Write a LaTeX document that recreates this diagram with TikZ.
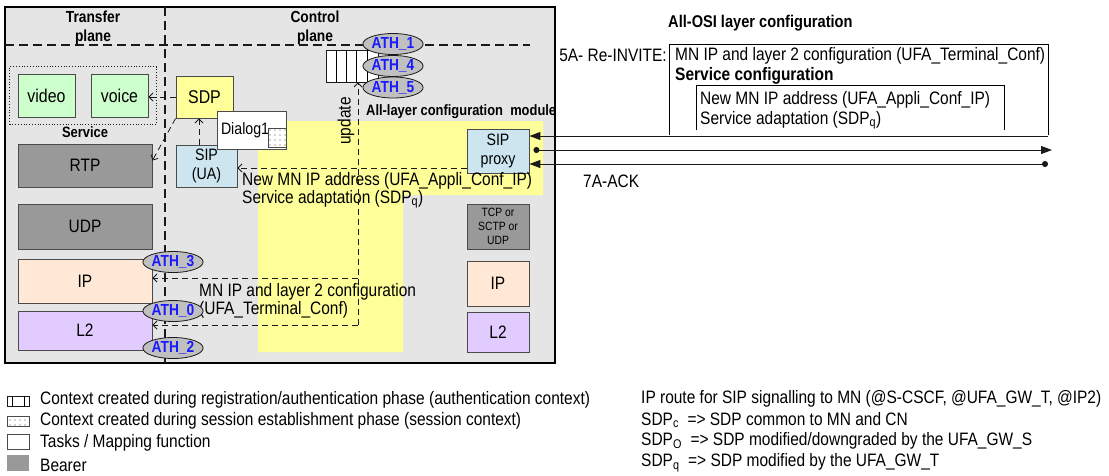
\documentclass[tikz,border=0pt]{standalone}
\usepackage{fontspec}
\setmainfont{Liberation Sans}[FakeStretch=0.86]
\usepackage{tikz}
\usetikzlibrary{arrows.meta,positioning,fit,shapes.geometric,patterns.meta}
\definecolor{ink}     {HTML}{1A1A1A}
\definecolor{edge}    {HTML}{4A4A4A}
\definecolor{panel}   {HTML}{E5E5E5}
\definecolor{bearer}  {HTML}{999999}
\definecolor{media}   {HTML}{CCFFCC}
\definecolor{sdpbg}   {HTML}{FFFF99}
\definecolor{sipbg}   {HTML}{CCE5EE}
\definecolor{ipbg}    {HTML}{FFE9D6}
\definecolor{ltwobg}  {HTML}{E2CCFF}
\definecolor{cfgzone} {HTML}{FFFF99}
\definecolor{athbg}   {HTML}{C0C0C0}
\definecolor{athtxt}  {HTML}{1A1AFF}
\tikzset{
  box/.style      ={draw=edge, line width=0.9pt, inner sep=0pt, align=center,
                    font=\fontsize{18}{19}\selectfont},
  mediabox/.style ={box, fill=media, minimum width=57, minimum height=43,
                    font=\fontsize{18.5}{20}\selectfont},
  bearerbox/.style={box, fill=bearer},
  ipbox/.style    ={box, fill=ipbg},
  ltwobox/.style  ={box, fill=ltwobg},
  sdpbox/.style   ={box, fill=sdpbg, font=\fontsize{18.5}{20}\selectfont},
  sipbox/.style   ={box, fill=sipbg, font=\fontsize{16.5}{19}\selectfont},
  taskbox/.style  ={box, fill=white, font=\fontsize{16.5}{19}\selectfont},
  sessctx/.style  ={draw=edge, line width=0.6pt, inner sep=0pt, preaction={fill=white},
                    pattern={Dots[distance=5pt,radius=0.55pt]}, pattern color=edge},
  authctx/.style  ={draw=ink, fill=white, line width=0.8pt, inner sep=0pt},
  ath/.style      ={ellipse, draw=ink, fill=athbg, line width=0.8pt, inner sep=0pt,
                    minimum width=49, minimum height=21, text=athtxt,
                    font=\fontsize{16}{16}\selectfont\bfseries},
  plane/.style    ={dash pattern=on 9pt off 5pt, line width=1.3pt, color=ink},
  dasharr/.style  ={-{Straight Barb[length=4pt,width=8pt]}, dash pattern=on 6pt off 4pt,
                    line width=0.8pt, color=ink},
  sigarr/.style   ={line width=1pt, color=ink},
  sigtip/.tip     ={Triangle[length=11pt,width=8pt]},
  note/.style     ={font=\fontsize{18}{18}\selectfont, align=left, inner sep=0pt},
  head/.style     ={font=\fontsize{16}{19}\selectfont\bfseries, align=center, inner sep=0pt},
}
\begin{document}
\begin{tikzpicture}[x=1pt,y=-1pt]
  \useasboundingbox[fill=white] (0,0) rectangle (1109,475);

  % terminal frame and planes
  \draw[fill=panel, line width=2.4pt] (5,7) rectangle (555,363);
  \fill[cfgzone] (258,121) -- (543,121) -- (543,195) -- (403,195)
    -- (403,352) -- (258,352) -- cycle;
  \draw[plane] (5,45) -- (530,45);
  \draw[plane] (165,7) -- (165,363);
  \node[head] (transfer) at (93,28) {Transfer\\plane};
  \node[head] (control) at (315,28) {Control\\plane};

  % transfer plane
  \node[mediabox] (video) at (46.5,95.5) {video};
  \node[mediabox] (voice) at (119.5,95.5) {voice};
  \node[draw=ink, dotted, line width=0.8pt, inner xsep=8pt, inner ysep=7pt,
        fit=(video)(voice)] (service) {};
  \node[head, font=\fontsize{15}{15}\selectfont\bfseries] (servlbl) at (85,132) {Service};
  \node[bearerbox, minimum width=134, minimum height=43] (rtp) at (85,165.5) {RTP};
  \node[bearerbox, minimum width=134, minimum height=45] (udp) at (85,226.5) {UDP};
  \node[ipbox, minimum width=134, minimum height=44] (ipL) at (85,281) {IP};
  \node[ltwobox, minimum width=134, minimum height=39] (ltwoL) at (85,330.5) {L2};

  % control plane
  \node[sdpbox, minimum width=57, minimum height=42] (sdp) at (204.5,97) {SDP};
  \node[sipbox, minimum width=61, minimum height=42] (sipua) at (206.5,166) {SIP\\(UA)};
  \node[taskbox, align=left, text width=61pt, inner xsep=4pt, minimum height=38,
        yshift=-2pt] (dialog) at (251.5,128) {Dialog1};
  \node[sessctx, minimum width=18, minimum height=19] (sessmark) at (277,137.5) {};
  \node[authctx, minimum width=52, minimum height=32] (queue) at (352,66) {};
  \foreach \dx in {10.4,20.8,31.2,41.6}
    \draw[line width=0.8pt] ([xshift=\dx pt]queue.north west) -- ([xshift=\dx pt]queue.south west);
  \node[note, font=\fontsize{15}{15}\selectfont\bfseries, anchor=west] (cfgmod) at (366,112)
    {All-layer configuration\ \ module};
  \node[sipbox, minimum width=62, minimum height=44] (sipproxy) at (498,151) {SIP\\proxy};
  \node[bearerbox, minimum width=62, minimum height=45, font=\fontsize{12}{14}\selectfont]
    (transport) at (498,226.5) {TCP or\\SCTP or\\UDP};
  \node[ipbox, minimum width=62, minimum height=45] (ipR) at (498,283.5) {IP};
  \node[ltwobox, minimum width=62, minimum height=40] (ltwoR) at (498,332) {L2};

  % local configuration flows
  \draw[dasharr] (sdp.west) -- (sdp.west -| voice.east);
  \draw[dasharr] (sdp.south west) -- ([yshift=5pt]rtp.east);
  \draw[dasharr] ([xshift=-7.5pt]sipua.north) -- ([xshift=-7.5pt]sipua.north |- sdp.south);
  \coordinate (fromproxy) at ([yshift=-17pt]sipproxy.west);
  \draw[dasharr] (fromproxy) -- (fromproxy -| sipua.east);
  \node[note, anchor=north west] (applilbl) at (242,172)
    {New MN IP address (UFA\_Appli\_Conf\_IP)\\Service adaptation (SDP\textsubscript{q})};

  \coordinate (bend) at (358,325);
  \coordinate (ipin) at ([yshift=3pt]ipL.east);
  \draw[dasharr] (bend) -- (bend |- queue.south);
  \draw[dasharr] (bend |- ipin) -- (ipin);
  \draw[dasharr] (bend) -- (bend -| ltwoL.east);
  \node[note, rotate=90, font=\fontsize{18}{18}\selectfont] (updlbl) at (346,121) {update};
  \node[note, anchor=west] (termlbl) at (199,301)
    {MN IP and layer 2 configuration\\(UFA\_Terminal\_Conf)};

  % authentication handles
  \node[ath] (ath1) at (393,44) {ATH\_1};
  \node[ath] (ath4) at (393,66) {ATH\_4};
  \node[ath] (ath5) at (393,87.5) {ATH\_5};
  \node[ath] (ath3) at (173,262) {ATH\_3};
  \node[ath] (ath0) at (173,311) {ATH\_0};
  \node[ath] (ath2) at (173,348) {ATH\_2};

  % signalling with the network
  \coordinate (farinv) at (1048,136);
  \coordinate (farmid) at (1052,150);
  \coordinate (farack) at (1048,164);
  \draw[sigarr, -sigtip] (farinv) -- (farinv -| sipproxy.east);
  \draw[sigarr, {Circle[length=6pt]}-sigtip] ([xshift=4pt]sipproxy.east |- farmid) -- (farmid);
  \draw[sigarr, {Circle[length=6pt]}-sigtip] (farack) -- (farack -| sipproxy.east);
  \node[note, anchor=east] (invlbl) at (667,55) {5A- Re-INVITE:};
  \node[note, anchor=west] (acklbl) at (583,181) {7A-ACK};

  % all-OSI layer configuration content
  \node[note, font=\fontsize{17}{17}\selectfont\bfseries, anchor=west] (osilbl) at (668,23)
    {All-OSI layer configuration};
  \draw[line width=0.8pt] (669,135) |- (1048,44) -- (1048,135);
  \node[note, anchor=west] (cfgterm) at (675,56)
    {MN IP and layer 2 configuration (UFA\_Terminal\_Conf)};
  \node[note, anchor=west, font=\fontsize{18}{18}\selectfont\bfseries] (cfgserv) at (675,76)
    {Service configuration};
  \draw[line width=0.8pt] (696,130) |- (1004,85) -- (1004,130);
  \node[note, anchor=north west, font=\fontsize{18}{20}\selectfont] (cfgappli) at (700,91)
    {New MN IP address (UFA\_Appli\_Conf\_IP)\\Service adaptation (SDP\textsubscript{q})};

  % legend
  \node[authctx, minimum width=22, minimum height=10] (lgauth) at (18,401.5) {};
  \draw[line width=0.8pt] ([xshift=5.5pt]lgauth.north west) -- ([xshift=5.5pt]lgauth.south west);
  \draw[line width=0.8pt] ([xshift=-5.5pt]lgauth.north east) -- ([xshift=-5.5pt]lgauth.south east);
  \node[sessctx, minimum width=22, minimum height=10] (lgsess) at (18,421.5) {};
  \node[authctx, draw=edge, minimum width=22, minimum height=15] (lgtask) at (18,441.5) {};
  \node[fill=bearer, inner sep=0pt, minimum width=22, minimum height=16] (lgbearer) at (18,463) {};
  \node[note, anchor=west] (lgauthtxt) at (40,400)
    {Context created during registration/authentication phase (authentication context)};
  \node[note, anchor=west] (lgsesstxt) at (40,421)
    {Context created during session establishment phase (session context)};
  \node[note, anchor=west] (lgtasktxt) at (40,443) {Tasks / Mapping function};
  \node[note, anchor=west] (lgbearertxt) at (40,465) {Bearer};

  \node[note, anchor=west] (routetxt) at (641,399)
    {IP route for SIP signalling to MN (@S-CSCF, @UFA\_GW\_T, @IP2)};
  \node[note, anchor=west] (sdpctxt) at (641,420)
    {SDP\textsubscript{c}\ \ => SDP common to MN and CN};
  \node[note, anchor=west] (sdpotxt) at (641,441)
    {SDP\textsubscript{O}\ \ => SDP modified/downgraded by the UFA\_GW\_S};
  \node[note, anchor=west] (sdpqtxt) at (641,463)
    {SDP\textsubscript{q}\ \ => SDP modified by the UFA\_GW\_T};
\end{tikzpicture}
\end{document}
